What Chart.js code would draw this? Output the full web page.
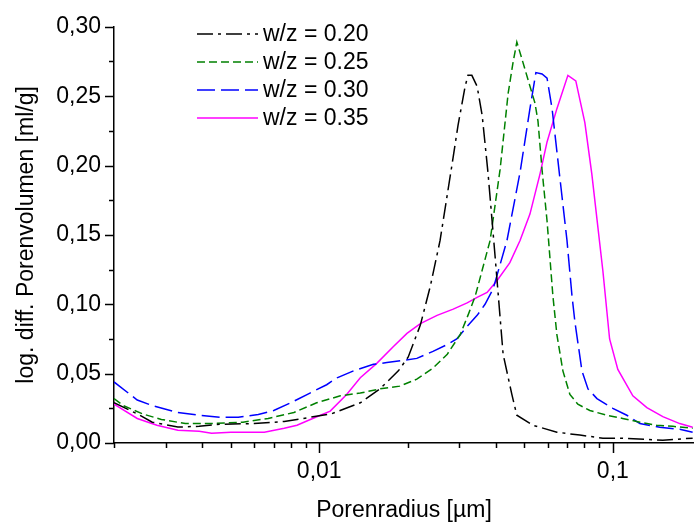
<!DOCTYPE html>
<html>
<head>
<meta charset="utf-8">
<script src="https://cdn.jsdelivr.net/npm/chart.js@4.4.0/dist/chart.umd.min.js"></script>
<style>
  html, body { margin: 0; padding: 0; background: #fff; }
</style>
</head>
<body>
<canvas id="chart" width="694" height="529"></canvas>
<script>
// Pore radius [µm] and log. diff. pore volume [ml/g]
const radius020 = [0.002, 0.0024, 0.0027, 0.0033, 0.0039, 0.0046, 0.006, 0.0076, 0.0093, 0.011, 0.0138, 0.0161, 0.0186, 0.0201, 0.0221, 0.0239, 0.0258, 0.0283, 0.0297, 0.0314, 0.0321, 0.0331, 0.0345, 0.0359, 0.0376, 0.0397, 0.0423, 0.0453, 0.0471, 0.0534, 0.0645, 0.0772, 0.0925, 0.108, 0.148, 0.187];
const volume020 = [0.029, 0.021, 0.015, 0.0115, 0.012, 0.0135, 0.014, 0.0155, 0.0185, 0.021, 0.029, 0.039, 0.052, 0.062, 0.085, 0.113, 0.146, 0.200, 0.229, 0.257, 0.265, 0.265, 0.257, 0.236, 0.194, 0.135, 0.064, 0.035, 0.020, 0.0128, 0.0078, 0.0057, 0.0035, 0.0035, 0.002, 0.0035];

const radius025 = [0.002, 0.00215, 0.0025, 0.0029, 0.0035, 0.0043, 0.0055, 0.0067, 0.0082, 0.0098, 0.0118, 0.0138, 0.0161, 0.0188, 0.0215, 0.0244, 0.0273, 0.0302, 0.0321, 0.034, 0.0382, 0.0413, 0.044, 0.0457, 0.0471, 0.049, 0.0514, 0.0543, 0.0556, 0.0574, 0.0597, 0.0625, 0.0645, 0.0676, 0.0714, 0.076, 0.0835, 0.0954, 0.108, 0.1236, 0.141, 0.16, 0.187];
const volume025 = [0.032, 0.027, 0.021, 0.017, 0.014, 0.014, 0.015, 0.0177, 0.022, 0.029, 0.034, 0.036, 0.039, 0.041, 0.046, 0.054, 0.064, 0.078, 0.092, 0.106, 0.146, 0.197, 0.252, 0.274, 0.289, 0.277, 0.262, 0.245, 0.232, 0.197, 0.160, 0.106, 0.078, 0.052, 0.035, 0.028, 0.0234, 0.020, 0.0177, 0.015, 0.0128, 0.012, 0.0106];

const radius030 = [0.002, 0.0024, 0.0027, 0.0033, 0.0039, 0.0046, 0.0053, 0.0062, 0.007, 0.008, 0.0093, 0.0106, 0.0115, 0.0131, 0.0153, 0.017, 0.0193, 0.0215, 0.0244, 0.0273, 0.0294, 0.0319, 0.0345, 0.0367, 0.0391, 0.0436, 0.0483, 0.0522, 0.0547, 0.0574, 0.0597, 0.0621, 0.0645, 0.0698, 0.0726, 0.0743, 0.0785, 0.0823, 0.0883, 0.1, 0.1116, 0.1236, 0.1445, 0.169, 0.187];
const volume030 = [0.044, 0.031, 0.027, 0.022, 0.020, 0.0185, 0.0185, 0.0206, 0.0234, 0.029, 0.036, 0.042, 0.047, 0.052, 0.0567, 0.058, 0.0596, 0.061, 0.066, 0.071, 0.075, 0.084, 0.092, 0.100, 0.111, 0.146, 0.195, 0.241, 0.267, 0.266, 0.263, 0.241, 0.210, 0.146, 0.106, 0.087, 0.052, 0.039, 0.032, 0.025, 0.020, 0.014, 0.0113, 0.0099, 0.0078];

const radius035 = [0.002, 0.0024, 0.0028, 0.0033, 0.0039, 0.0043, 0.005, 0.0065, 0.0076, 0.0084, 0.0095, 0.0109, 0.0124, 0.0138, 0.0157, 0.0179, 0.0199, 0.0221, 0.0252, 0.0286, 0.0319, 0.0345, 0.0373, 0.0403, 0.0446, 0.0483, 0.0522, 0.0565, 0.0597, 0.0645, 0.0703, 0.0748, 0.0803, 0.0848, 0.0925, 0.0975, 0.104, 0.117, 0.1306, 0.148, 0.169, 0.187];
const volume035 = [0.028, 0.0177, 0.0128, 0.0092, 0.0085, 0.0071, 0.0078, 0.0078, 0.0106, 0.0128, 0.0177, 0.023, 0.035, 0.047, 0.0574, 0.0695, 0.079, 0.086, 0.092, 0.0965, 0.101, 0.105, 0.1085, 0.117, 0.130, 0.146, 0.165, 0.194, 0.217, 0.241, 0.265, 0.261, 0.231, 0.194, 0.124, 0.075, 0.053, 0.034, 0.0255, 0.019, 0.014, 0.0113];

const seriesLabels = ['w/z = 0.20', 'w/z = 0.25', 'w/z = 0.30', 'w/z = 0.35'];

// Axis ticks
const xMajorTicks = [0.01, 0.1];
const xMinorTicks = [0.002, 0.003, 0.004, 0.005, 0.006, 0.007, 0.008, 0.009, 0.02, 0.03, 0.04, 0.05, 0.06, 0.07, 0.08, 0.09];
const yMajorTicks = [0, 0.05, 0.10, 0.15, 0.20, 0.25, 0.30];
const yMinorTicks = [0.025, 0.075, 0.125, 0.175, 0.225, 0.275];

const FONT = "'Liberation Sans', Arial, sans-serif";
const FONT_SIZE = 23;

function toPoints(xs, ys) {
    return xs.map((x, i) => ({ x: x, y: ys[i] }));
}

function commaLabel(v, digits) {
    return v.toFixed(digits).replace('.', ',');
}

// Tick marks of two lengths, drawn outside the axes
const tickMarks = {
    id: 'tickMarks',
    afterDraw(chart) {
        const ctx = chart.ctx;
        const area = chart.chartArea;
        const xs = chart.scales.x;
        const ys = chart.scales.y;
        ctx.save();
        ctx.strokeStyle = '#000';
        ctx.lineWidth = 1.5;
        ctx.beginPath();
        const drawX = (v, len) => {
            const px = Math.round(xs.getPixelForValue(v)) + 0.5;
            if (px > area.right + 1) return;
            ctx.moveTo(px, area.bottom);
            ctx.lineTo(px, area.bottom + len);
        };
        const drawY = (v, len) => {
            const py = Math.round(ys.getPixelForValue(v)) + 0.5;
            ctx.moveTo(area.left, py);
            ctx.lineTo(area.left - len, py);
        };
        xMajorTicks.forEach(v => drawX(v, 10));
        xMinorTicks.forEach(v => drawX(v, 5));
        yMajorTicks.forEach(v => drawY(v, 9));
        yMinorTicks.forEach(v => drawY(v, 5));
        ctx.stroke();
        ctx.restore();
    }
};

// Legend inside the plot, lines drawn with each dataset's own style
const insideLegend = {
    id: 'insideLegend',
    afterDraw(chart) {
        const ctx = chart.ctx;
        const rows = [34, 62, 90, 118];
        ctx.save();
        chart.data.datasets.forEach((ds, i) => {
            const y = rows[i];
            ctx.beginPath();
            ctx.strokeStyle = ds.borderColor;
            ctx.lineWidth = ds.borderWidth;
            ctx.setLineDash(ds.borderDash || []);
            ctx.moveTo(197, y);
            ctx.lineTo(258, y);
            ctx.stroke();
            ctx.setLineDash([]);
            ctx.fillStyle = '#000';
            ctx.font = FONT_SIZE + 'px ' + FONT;
            ctx.textBaseline = 'middle';
            ctx.textAlign = 'left';
            ctx.fillText(ds.label, 263, y + 1);
        });
        ctx.restore();
    }
};

const ctx = document.getElementById('chart');

new Chart(ctx, {
    type: 'line',
    data: {
        datasets: [
            {
                label: seriesLabels[0],
                data: toPoints(radius020, volume020),
                borderColor: '#000000',
                borderWidth: 1.5,
                borderDash: [16, 5, 3, 5]
            },
            {
                label: seriesLabels[1],
                data: toPoints(radius025, volume025),
                borderColor: '#008000',
                borderWidth: 1.5,
                borderDash: [8, 4]
            },
            {
                label: seriesLabels[2],
                data: toPoints(radius030, volume030),
                borderColor: '#0000FF',
                borderWidth: 1.5,
                borderDash: [18, 6]
            },
            {
                label: seriesLabels[3],
                data: toPoints(radius035, volume035),
                borderColor: '#FF00FF',
                borderWidth: 1.5
            }
        ]
    },
    options: {
        responsive: false,
        animation: false,
        devicePixelRatio: 1,
        layout: { padding: { top: 20, right: 0, bottom: 0, left: 0 } },
        elements: {
            point: { radius: 0 },
            line: { tension: 0, fill: false }
        },
        plugins: {
            legend: { display: false },
            tooltip: { enabled: false }
        },
        scales: {
            x: {
                type: 'logarithmic',
                min: 0.002,
                max: 0.189,
                afterFit(scale) { scale.height = 86; },
                afterBuildTicks(scale) {
                    scale.ticks = xMajorTicks.map(v => ({ value: v }));
                },
                grid: { display: false, drawTicks: false },
                border: { display: true, color: '#000', width: 1.5 },
                ticks: {
                    color: '#000',
                    padding: 15,
                    maxRotation: 0,
                    autoSkip: false,
                    font: { family: FONT, size: FONT_SIZE },
                    callback: (v) => commaLabel(v, v < 0.05 ? 2 : 1)
                },
                title: {
                    display: true,
                    text: 'Porenradius [µm]',
                    color: '#000',
                    font: { family: FONT, size: FONT_SIZE },
                    padding: { top: 0, bottom: 5 }
                }
            },
            y: {
                min: 0,
                max: 0.30,
                afterFit(scale) { scale.width = 114; },
                afterBuildTicks(scale) {
                    scale.ticks = yMajorTicks.map(v => ({ value: v }));
                },
                grid: { display: false, drawTicks: false },
                border: { display: true, color: '#000', width: 1.5 },
                ticks: {
                    color: '#000',
                    padding: 13,
                    autoSkip: false,
                    font: { family: FONT, size: FONT_SIZE },
                    callback: (v) => commaLabel(v, 2)
                },
                title: {
                    display: true,
                    text: 'log. diff. Porenvolumen [ml/g]',
                    color: '#000',
                    font: { family: FONT, size: FONT_SIZE },
                    padding: { top: 13, bottom: 0 }
                }
            }
        }
    },
    plugins: [tickMarks, insideLegend]
});
</script>
</body>
</html>
